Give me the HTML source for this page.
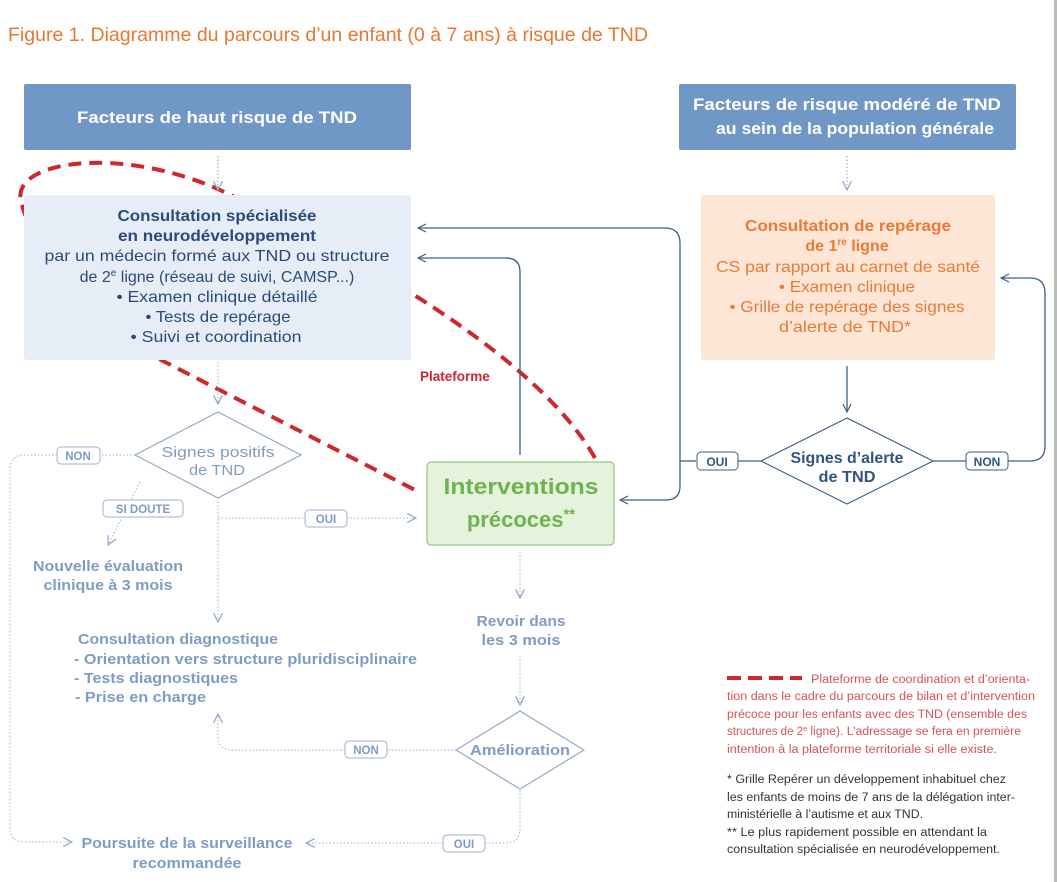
<!DOCTYPE html>
<html><head><meta charset="utf-8"><style>
html,body{margin:0;padding:0;background:#fff;}
svg{display:block;}
text{font-family:"Liberation Sans",sans-serif;}
</style></head><body>
<svg width="1057" height="882" viewBox="0 0 1057 882" xmlns="http://www.w3.org/2000/svg">
<defs>
<marker id="ad" viewBox="0 0 10 10" refX="9" refY="5" markerWidth="10" markerHeight="10" orient="auto" markerUnits="userSpaceOnUse"><path d="M1,1 L9,5 L1,9" fill="none" stroke="#3d5f88" stroke-width="1.2"/></marker>
<marker id="af" viewBox="0 0 10 10" refX="9" refY="5" markerWidth="11" markerHeight="11" orient="auto" markerUnits="userSpaceOnUse"><path d="M1,1 L9,5 L1,9" fill="none" stroke="#8ea6c6" stroke-width="1.1"/></marker>
</defs>
<rect x="1054" y="0" width="3" height="882" fill="#bbb"/>
<text x="8" y="41" font-size="19.5" fill="#e8772e" textLength="640" lengthAdjust="spacingAndGlyphs">Figure 1. Diagramme du parcours d’un enfant (0 à 7 ans) à risque de TND</text>

<!-- red ellipse (behind boxes) -->
<path d="M595,458 C545,370 400,275 220,190 C120,145 5,160 22,205 C30,240 100,330 165,362 L415,490" fill="none" stroke="#d0262d" stroke-width="4" stroke-dasharray="13,8"/>

<!-- top boxes -->
<rect x="24" y="84" width="387" height="66" rx="2" fill="#7097c5"/>
<text x="217" y="123" font-size="17" font-weight="bold" fill="#fff" text-anchor="middle" textLength="280" lengthAdjust="spacingAndGlyphs">Facteurs de haut risque de TND</text>
<rect x="679" y="84" width="337" height="66" rx="2" fill="#7097c5"/>
<text x="847" y="110" font-size="17" font-weight="bold" fill="#fff" text-anchor="middle" textLength="308" lengthAdjust="spacingAndGlyphs">Facteurs de risque modéré de TND</text>
<text x="855" y="134" font-size="17" font-weight="bold" fill="#fff" text-anchor="middle" textLength="278" lengthAdjust="spacingAndGlyphs">au sein de la population générale</text>

<line x1="218" y1="156" x2="218" y2="190" stroke="#8ea6c6" stroke-dasharray="1.5,2" marker-end="url(#af)"/>
<line x1="847" y1="156" x2="847" y2="190" stroke="#8ea6c6" stroke-dasharray="1.5,2" marker-end="url(#af)"/>

<rect x="24" y="195" width="387" height="165" rx="3" fill="#e6edf7"/>
<g font-size="16" fill="#2b4a7a" text-anchor="middle" lengthAdjust="spacingAndGlyphs">
<text x="217" y="221" font-weight="bold" textLength="199" lengthAdjust="spacingAndGlyphs">Consultation spécialisée</text>
<text x="217" y="241" font-weight="bold" textLength="198" lengthAdjust="spacingAndGlyphs">en neurodéveloppement</text>
<text x="217" y="261" textLength="345" lengthAdjust="spacingAndGlyphs">par un médecin formé aux TND ou structure</text>
<text x="217" y="282">de 2<tspan font-size="10" dy="-6">e</tspan><tspan dy="6"> ligne (réseau de suivi, CAMSP...)</tspan></text>
<text x="217" y="302" textLength="201" lengthAdjust="spacingAndGlyphs">• Examen clinique détaillé</text>
<text x="218" y="322" textLength="145" lengthAdjust="spacingAndGlyphs">• Tests de repérage</text>
<text x="216" y="342" textLength="171" lengthAdjust="spacingAndGlyphs">• Suivi et coordination</text>
</g>

<rect x="701" y="195" width="294" height="165" rx="3" fill="#fde6d5"/>
<g font-size="16" fill="#ea7a36" text-anchor="middle">
<text x="848" y="231" font-weight="bold" textLength="206" lengthAdjust="spacingAndGlyphs">Consultation de repérage</text>
<text x="847" y="251" font-weight="bold">de 1<tspan font-size="10" dy="-6">re</tspan><tspan dy="6"> ligne</tspan></text>
<text x="848" y="272" textLength="264" lengthAdjust="spacingAndGlyphs">CS par rapport au carnet de santé</text>
<text x="847" y="292" textLength="136" lengthAdjust="spacingAndGlyphs">• Examen clinique</text>
<text x="847" y="312" textLength="235" lengthAdjust="spacingAndGlyphs">• Grille de repérage des signes</text>
<text x="845" y="332" textLength="132" lengthAdjust="spacingAndGlyphs">d’alerte de TND*</text>
</g>

<text x="420" y="381" font-size="13.5" font-weight="bold" fill="#d0262d">Plateforme</text>

<!-- solid connectors -->
<g fill="none" stroke="#3d5f88" stroke-width="1.3">
<line x1="847" y1="366" x2="847" y2="412" marker-end="url(#ad)"/>
<path d="M763,461 L738,461"/>
<path d="M696,461 L680,461"/>
<path d="M680,461 L680,243 Q680,228 665,228 L418,228" marker-end="url(#ad)"/>
<path d="M680,461 L680,486 Q680,500 666,500 L620,500" marker-end="url(#ad)"/>
<path d="M933,461 L966,461"/>
<path d="M1008,461 L1030,461 Q1045,461 1045,446 L1045,293 Q1045,278 1030,278 L1001,278" marker-end="url(#ad)"/>
<path d="M520,455 L520,272 Q520,258 506,258 L418,258" marker-end="url(#ad)"/>
</g>
<polygon points="847,418 933,461 847,504 761,461" fill="#fff" stroke="#3d5f88" stroke-width="1.2"/>
<text x="847" y="463" font-size="15.5" font-weight="bold" fill="#2f5580" text-anchor="middle" textLength="113" lengthAdjust="spacingAndGlyphs">Signes d’alerte</text>
<text x="847" y="482" font-size="15.5" font-weight="bold" fill="#2f5580" text-anchor="middle" textLength="57" lengthAdjust="spacingAndGlyphs">de TND</text>
<rect x="697" y="452" width="41" height="18" rx="4" fill="#fff" stroke="#3d5f88"/>
<text x="717" y="466" font-size="12" font-weight="bold" fill="#2f5580" text-anchor="middle">OUI</text>
<rect x="966" y="452" width="42" height="18" rx="4" fill="#fff" stroke="#3d5f88"/>
<text x="987" y="466" font-size="12" font-weight="bold" fill="#2f5580" text-anchor="middle">NON</text>

<!-- faded dotted connectors -->
<g fill="none" stroke="#9eb2cc" stroke-width="1" stroke-dasharray="1.5,2">
<line x1="218" y1="362" x2="218" y2="404" marker-end="url(#af)"/>
<path d="M135,455 L100,455"/>
<path d="M57,455 L25,455 Q10,455 10,470 L10,828 Q10,842 25,842 L72,842" marker-end="url(#af)"/>
<path d="M140,482 L108,545" marker-end="url(#af)"/>
<line x1="218" y1="498" x2="218" y2="622" marker-end="url(#af)"/>
<path d="M218,518 L305,518"/>
<path d="M347,518 L416,518" marker-end="url(#af)"/>
<line x1="520" y1="552" x2="520" y2="598" marker-end="url(#af)"/>
<line x1="520" y1="656" x2="520" y2="705" marker-end="url(#af)"/>
<path d="M456,750 L387,750"/>
<path d="M345,750 L232,750 Q218,750 218,736 L218,714" marker-end="url(#af)"/>
<path d="M520,790 L520,828 Q520,843 505,843 L485,843"/>
<path d="M443,843 L306,843" marker-end="url(#af)"/>
</g>

<polygon points="218,412 301,455 218,498 135,455" fill="#fff" stroke="#8ea6c6" stroke-width="1.1"/>
<text x="218" y="457" font-size="15" fill="#7f9cc3" text-anchor="middle" textLength="113" lengthAdjust="spacingAndGlyphs">Signes positifs</text>
<text x="217" y="475" font-size="15" fill="#7f9cc3" text-anchor="middle" textLength="56" lengthAdjust="spacingAndGlyphs">de TND</text>

<rect x="427" y="462" width="187" height="83" rx="4" fill="#e5f3dd" stroke="#92c97d" stroke-width="1.2"/>
<text x="521" y="494" font-size="22" font-weight="bold" fill="#6db34f" text-anchor="middle" textLength="155" lengthAdjust="spacingAndGlyphs">Interventions</text>
<text x="521" y="527" font-size="22" font-weight="bold" fill="#6db34f" text-anchor="middle">précoces<tspan font-size="15" dy="-8">**</tspan></text>

<polygon points="520,711 584,750 520,789 456,750" fill="#fff" stroke="#8ea6c6" stroke-width="1.1"/>
<text x="520" y="755" font-size="15" font-weight="bold" fill="#7f9cc3" text-anchor="middle" textLength="100" lengthAdjust="spacingAndGlyphs">Amélioration</text>

<g font-size="11.5" font-weight="bold" fill="#7f9cc3" text-anchor="middle">
<rect x="57" y="447" width="43" height="17" rx="4" fill="#fff" stroke="#9eb2cc"/><text x="78" y="460">NON</text>
<rect x="103" y="500" width="80" height="17" rx="4" fill="#fff" stroke="#9eb2cc"/><text x="143" y="513">SI DOUTE</text>
<rect x="305" y="510" width="42" height="17" rx="4" fill="#fff" stroke="#9eb2cc"/><text x="326" y="523">OUI</text>
<rect x="345" y="741" width="42" height="17" rx="4" fill="#fff" stroke="#9eb2cc"/><text x="366" y="754">NON</text>
<rect x="443" y="835" width="42" height="17" rx="4" fill="#fff" stroke="#9eb2cc"/><text x="464" y="848">OUI</text>
</g>

<g font-size="15" font-weight="bold" fill="#7f9cc3">
<text x="108" y="571" text-anchor="middle" textLength="150" lengthAdjust="spacingAndGlyphs">Nouvelle évaluation</text>
<text x="108" y="590" text-anchor="middle" textLength="129" lengthAdjust="spacingAndGlyphs">clinique à 3 mois</text>
<text x="78" y="644" textLength="200" lengthAdjust="spacingAndGlyphs">Consultation diagnostique</text>
<text x="74" y="664" textLength="343" lengthAdjust="spacingAndGlyphs">- Orientation vers structure pluridisciplinaire</text>
<text x="74" y="683" textLength="164" lengthAdjust="spacingAndGlyphs">- Tests diagnostiques</text>
<text x="75" y="702" textLength="131" lengthAdjust="spacingAndGlyphs">- Prise en charge</text>
<text x="521" y="626" text-anchor="middle" textLength="89" lengthAdjust="spacingAndGlyphs">Revoir dans</text>
<text x="521" y="645" text-anchor="middle" textLength="79" lengthAdjust="spacingAndGlyphs">les 3 mois</text>
<text x="187" y="848" text-anchor="middle" textLength="211" lengthAdjust="spacingAndGlyphs">Poursuite de la surveillance</text>
<text x="187" y="868" text-anchor="middle" textLength="109" lengthAdjust="spacingAndGlyphs">recommandée</text>
</g>

<!-- legend -->
<line x1="727" y1="678" x2="802" y2="678" stroke="#d0262d" stroke-width="4" stroke-dasharray="14,7"/>
<g font-size="11.5" fill="#d4535a">
<text x="811" y="683" textLength="219" lengthAdjust="spacingAndGlyphs">Plateforme de coordination et d’orienta-</text>
<text x="727" y="700" textLength="308" lengthAdjust="spacingAndGlyphs">tion dans le cadre du parcours de bilan et d’intervention</text>
<text x="727" y="718" textLength="300" lengthAdjust="spacingAndGlyphs">précoce pour les enfants avec des TND (ensemble des</text>
<text x="727" y="735">structures de 2<tspan font-size="7" dy="-4">e</tspan><tspan dy="4" textLength="214" lengthAdjust="spacingAndGlyphs"> ligne). L’adressage se fera en première</tspan></text>
<text x="727" y="753" textLength="270" lengthAdjust="spacingAndGlyphs">intention à la plateforme territoriale si elle existe.</text>
</g>
<g font-size="11.5" fill="#333">
<text x="727" y="783" textLength="279" lengthAdjust="spacingAndGlyphs">* Grille Repérer un développement inhabituel chez</text>
<text x="727" y="801" textLength="288" lengthAdjust="spacingAndGlyphs">les enfants de moins de 7 ans de la délégation inter-</text>
<text x="727" y="818" textLength="196" lengthAdjust="spacingAndGlyphs">ministérielle à l’autisme et aux TND.</text>
<text x="727" y="836" textLength="260" lengthAdjust="spacingAndGlyphs">** Le plus rapidement possible en attendant la</text>
<text x="727" y="853" textLength="273" lengthAdjust="spacingAndGlyphs">consultation spécialisée en neurodéveloppement.</text>
</g>
</svg>
</body></html>
